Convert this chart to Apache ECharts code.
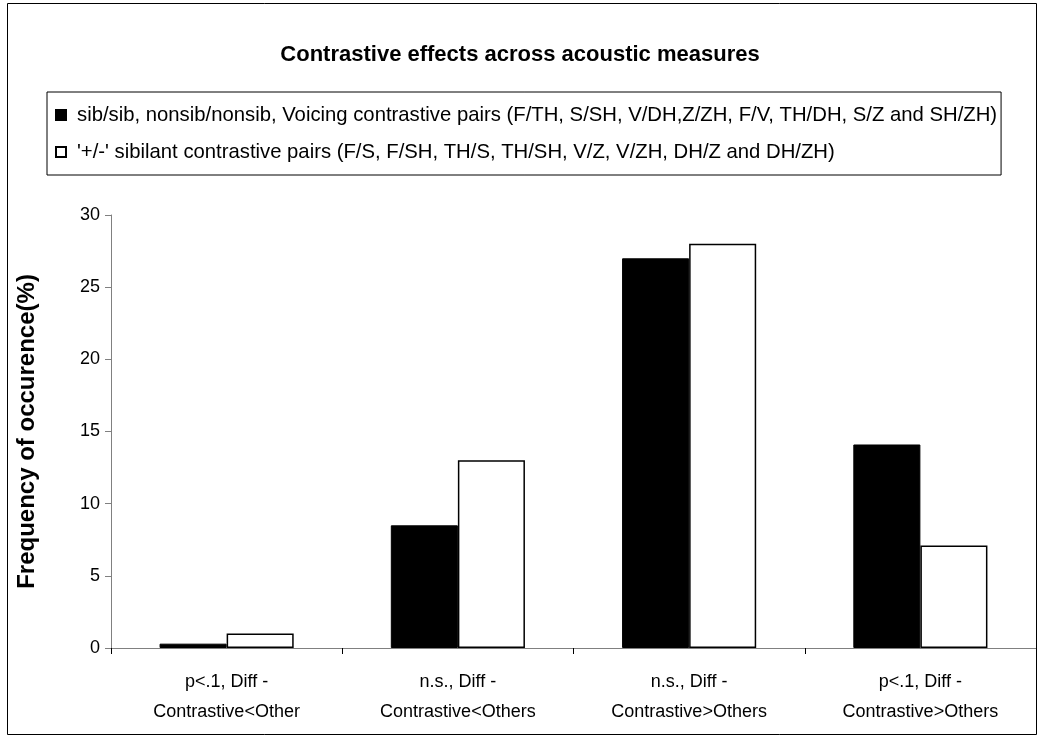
<!DOCTYPE html>
<html>
<head>
<meta charset="utf-8">
<script src="https://cdn.jsdelivr.net/npm/echarts@6/dist/echarts.min.js"></script>
<style>
  html, body { margin: 0; padding: 0; background: #fff; }
  #chart { width: 1040px; height: 752px; }
</style>
</head>
<body>
<div id="chart"></div>
<script>
// Category labels (two lines each)
const categories = [
  'p<.1, Diff -\nContrastive<Other',
  'n.s., Diff -\nContrastive<Others',
  'n.s., Diff -\nContrastive>Others',
  'p<.1, Diff -\nContrastive>Others'
];

// Series names
const seriesNameA = 'sib/sib, nonsib/nonsib, Voicing contrastive pairs (F/TH, S/SH, V/DH,Z/ZH, F/V, TH/DH, S/Z and SH/ZH)';
const seriesNameB = "'+/-' sibilant contrastive pairs (F/S, F/SH, TH/S, TH/SH, V/Z, V/ZH, DH/Z and DH/ZH)";

// Frequency of occurrence (%)
const valuesA = [0.3, 8.5, 27, 14.1];
const valuesB = [1.0, 13, 28, 7.1];

// Y-axis ticks
const yMin = 0, yMax = 30, yStep = 5;

const FONT = '"Liberation Sans", Arial, sans-serif';

const chart = echarts.init(document.getElementById('chart'), null, { renderer: 'canvas' });

chart.setOption({
  backgroundColor: '#fff',
  animation: false,
  title: {
    text: 'Contrastive effects across acoustic measures',
    left: 'center',
    top: 39,
    textStyle: { fontFamily: FONT, fontSize: 22, fontWeight: 'bold', color: '#000' }
  },
  legend: {
    orient: 'vertical',
    left: 47,
    top: 92,
    padding: [13, 4, 13, 8],
    itemGap: 17,
    itemWidth: 10,
    itemHeight: 10,
    borderColor: '#000',
    borderWidth: 1,
    textStyle: { fontFamily: FONT, fontSize: 20.3, color: '#000', padding: [0, 0, 0, 6] },
    data: [
      { name: seriesNameA, icon: 'rect' },
      { name: seriesNameB, icon: 'rect' }
    ]
  },
  graphic: [
    {
      type: 'rect',
      shape: { x: 7.5, y: 3.5, width: 1029, height: 731 },
      style: { fill: 'none', stroke: '#000', lineWidth: 1 },
      silent: true,
      z: -1
    }
  ],
  grid: { left: 111, right: 4, top: 215, bottom: 104, containLabel: false },
  xAxis: {
    type: 'category',
    data: categories,
    axisLine: { lineStyle: { color: '#808080', width: 1 } },
    axisTick: { show: true, alignWithLabel: false, length: 6, lineStyle: { color: '#000' } },
    axisLabel: {
      fontFamily: FONT, fontSize: 18, color: '#000', margin: 19, lineHeight: 30, interval: 0
    }
  },
  yAxis: {
    type: 'value',
    min: yMin, max: yMax, interval: yStep,
    name: 'Frequency of occurence(%)',
    nameLocation: 'middle',
    nameGap: 72,
    nameTextStyle: { fontFamily: FONT, fontSize: 24, fontWeight: 'bold', color: '#000' },
    axisLine: { show: true, lineStyle: { color: '#808080', width: 1 } },
    axisTick: { show: true, inside: false, length: 6, lineStyle: { color: '#808080' } },
    axisLabel: { fontFamily: FONT, fontSize: 18, color: '#000', margin: 11 },
    splitLine: { show: false }
  },
  series: [
    {
      name: seriesNameA,
      type: 'bar',
      data: valuesA,
      barGap: '0%',
      barCategoryGap: '42%',
      itemStyle: { color: '#000', borderColor: '#000', borderWidth: 1 }
    },
    {
      name: seriesNameB,
      type: 'bar',
      data: valuesB,
      barGap: '0%',
      barCategoryGap: '42%',
      itemStyle: { color: '#fff', borderColor: '#000', borderWidth: 1.5 }
    }
  ]
});
</script>
</body>
</html>
